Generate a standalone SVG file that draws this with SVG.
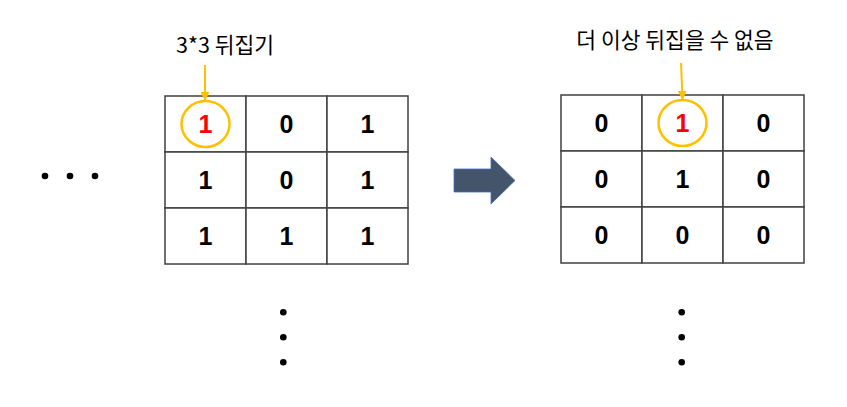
<svg xmlns="http://www.w3.org/2000/svg" width="847" height="407" viewBox="0 0 847 407">
<defs>
<style>
.cell{fill:#fff;stroke:#404040;stroke-width:1.5}
.num{font-family:"Liberation Sans",Arial,sans-serif;font-weight:bold;font-size:25px;text-anchor:middle;fill:#000}
.red{fill:#ff0000}
.lbl{font-family:"Noto Sans CJK KR","Noto Sans",sans-serif;font-size:21.5px;text-anchor:middle;fill:#000}
.ring{fill:none;stroke:#FFC000;stroke-width:2.5}
.ptr{stroke:#FFC000;stroke-width:2;fill:none}
.dot{fill:#000}
</style>
<marker id="ah" viewBox="0 0 10 10" refX="9" refY="5" markerWidth="4.5" markerHeight="4.5" orient="auto" markerUnits="strokeWidth">
<path d="M0,0 L10,5 L0,10 z" fill="#FFC000"/>
</marker>
</defs>
<rect width="847" height="407" fill="#fff"/>

<g id="grid-left">
<rect class="cell" x="165" y="96" width="81" height="56"/>
<rect class="cell" x="246" y="96" width="81" height="56"/>
<rect class="cell" x="327" y="96" width="81" height="56"/>
<rect class="cell" x="165" y="152" width="81" height="56"/>
<rect class="cell" x="246" y="152" width="81" height="56"/>
<rect class="cell" x="327" y="152" width="81" height="56"/>
<rect class="cell" x="165" y="208" width="81" height="56"/>
<rect class="cell" x="246" y="208" width="81" height="56"/>
<rect class="cell" x="327" y="208" width="81" height="56"/>
<text class="num red" x="205.5" y="133">1</text>
<text class="num" x="286.5" y="133">0</text>
<text class="num" x="367.5" y="133">1</text>
<text class="num" x="205.5" y="189">1</text>
<text class="num" x="286.5" y="189">0</text>
<text class="num" x="367.5" y="189">1</text>
<text class="num" x="205.5" y="245">1</text>
<text class="num" x="286.5" y="245">1</text>
<text class="num" x="367.5" y="245">1</text>
<ellipse class="ring" cx="205.5" cy="124" rx="24" ry="23"/>
</g>

<g id="grid-right">
<rect class="cell" x="561" y="95" width="81" height="56"/>
<rect class="cell" x="642" y="95" width="81" height="56"/>
<rect class="cell" x="723" y="95" width="81" height="56"/>
<rect class="cell" x="561" y="151" width="81" height="56"/>
<rect class="cell" x="642" y="151" width="81" height="56"/>
<rect class="cell" x="723" y="151" width="81" height="56"/>
<rect class="cell" x="561" y="207" width="81" height="56"/>
<rect class="cell" x="642" y="207" width="81" height="56"/>
<rect class="cell" x="723" y="207" width="81" height="56"/>
<text class="num" x="601.5" y="132">0</text>
<text class="num red" x="682.5" y="132">1</text>
<text class="num" x="763.5" y="132">0</text>
<text class="num" x="601.5" y="188">0</text>
<text class="num" x="682.5" y="188">1</text>
<text class="num" x="763.5" y="188">0</text>
<text class="num" x="601.5" y="244">0</text>
<text class="num" x="682.5" y="244">0</text>
<text class="num" x="763.5" y="244">0</text>
<ellipse class="ring" cx="682.5" cy="123" rx="24" ry="23"/>
</g>

<g id="label-left">
<text class="lbl" x="225" y="53">3*3 뒤집기</text>
</g>
<g id="label-right">
<text class="lbl" x="675" y="48">더 이상 뒤집을 수 없음</text>
</g>

<g id="connectors">
<line class="ptr" x1="205" y1="65" x2="205" y2="100" marker-end="url(#ah)"/>
<line class="ptr" x1="681" y1="63" x2="682.5" y2="99" marker-end="url(#ah)"/>
</g>

<g id="big-arrow">
<path d="M454,169 L491,169 L491,157 L515,180.5 L491,204 L491,192 L454,192 Z" fill="#44546A" stroke="#4472C4" stroke-width="0.8"/>
</g>

<g id="dots">
<circle class="dot" cx="45" cy="176" r="3.3"/>
<circle class="dot" cx="70" cy="176" r="3.3"/>
<circle class="dot" cx="95" cy="176" r="3.3"/>
<circle class="dot" cx="283.3" cy="312.3" r="3.3"/>
<circle class="dot" cx="283.3" cy="337.3" r="3.3"/>
<circle class="dot" cx="283.3" cy="362.3" r="3.3"/>
<circle class="dot" cx="681.7" cy="312.3" r="3.3"/>
<circle class="dot" cx="681.7" cy="337.3" r="3.3"/>
<circle class="dot" cx="681.7" cy="362.3" r="3.3"/>
</g>
</svg>
